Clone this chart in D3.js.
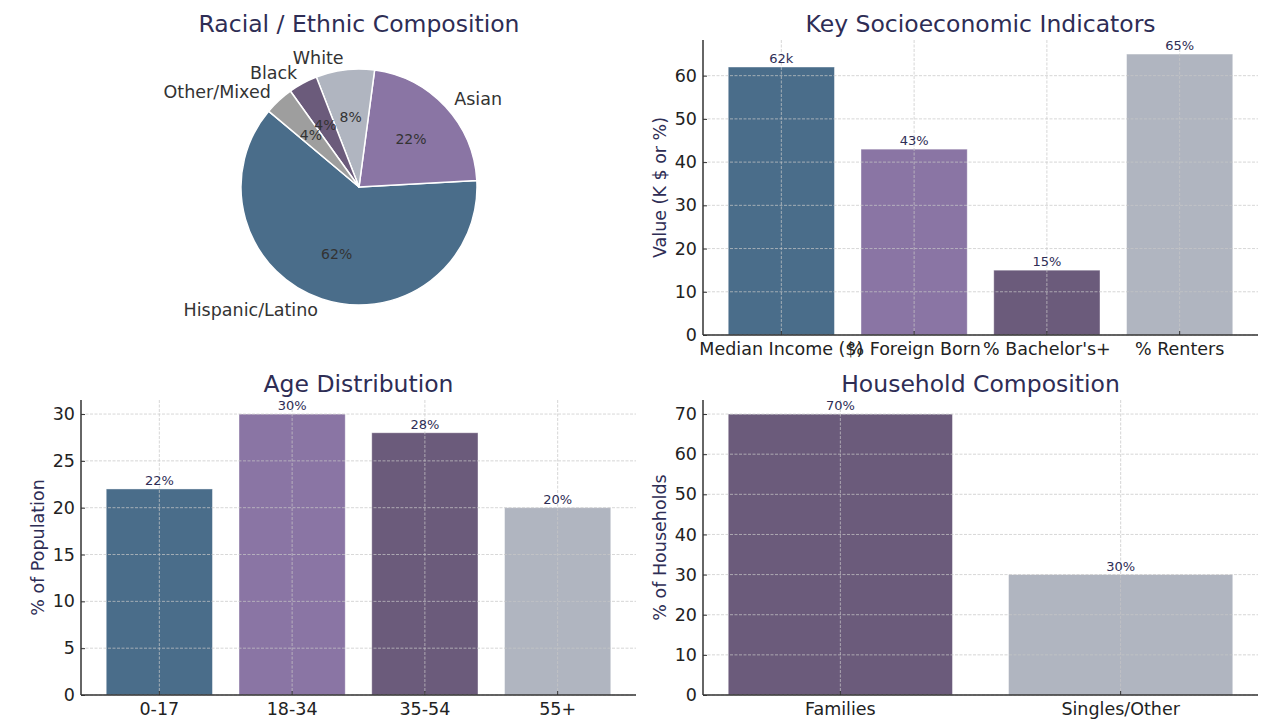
<!DOCTYPE html>
<html><head><meta charset="utf-8">
<script src="https://cdn.jsdelivr.net/npm/d3@7"></script>
<style>
body{margin:0;background:#fff;}
svg{display:block;font-family:"DejaVu Sans",sans-serif;}
</style></head>
<body><svg id="c" width="1270" height="720"></svg>
<script>
// ---- data ----
const raceLabels = ["Hispanic/Latino","Asian","White","Black","Other/Mixed"];
const raceValues = [62,22,8,4,4];
const raceColors = ["#4a6d8a","#8a75a4","#b0b5c0","#6b5b7b","#9e9e9e"];

const socioLabels = ["Median Income ($)","% Foreign Born","% Bachelor's+","% Renters"];
const socioValues = [62,43,15,65];
const socioText = ["62k","43%","15%","65%"];
const socioColors = ["#4a6d8a","#8a75a4","#6b5b7b","#b0b5c0"];
const socioTicks = [0,10,20,30,40,50,60];

const ageLabels = ["0-17","18-34","35-54","55+"];
const ageValues = [22,30,28,20];
const ageText = ["22%","30%","28%","20%"];
const ageColors = ["#4a6d8a","#8a75a4","#6b5b7b","#b0b5c0"];
const ageTicks = [0,5,10,15,20,25,30];

const hhLabels = ["Families","Singles/Other"];
const hhValues = [70,30];
const hhText = ["70%","30%"];
const hhColors = ["#6b5b7b","#b0b5c0"];
const hhTicks = [0,10,20,30,40,50,60,70];

const titleColor = "#2e2d55";
const svg = d3.select("#c");

// ---- pie ----
(function(){
  const cx = 359, cy = 187, r = 118;
  const g = svg.append("g").attr("transform",`translate(${cx},${cy})`);
  const deg = Math.PI/180;
  const start = Math.PI/2 - 140*deg;
  const pie = d3.pie().sort(null).value(d=>d).startAngle(start).endAngle(start - 2*Math.PI);
  const arcs = pie(raceValues);
  const arc = d3.arc().innerRadius(0).outerRadius(r);
  g.selectAll("path").data(arcs).enter().append("path")
    .attr("d", arc).attr("fill",(d,i)=>raceColors[i])
    .attr("stroke","#fff").attr("stroke-width",1.5).attr("stroke-linejoin","round");
  arcs.forEach((a,i)=>{
    const m = (a.startAngle + a.endAngle)/2;
    const lx = Math.sin(m)*r*1.1, ly = -Math.cos(m)*r*1.1;
    g.append("text").attr("x",lx).attr("y",ly).attr("dy","0.35em")
      .attr("text-anchor", lx>0 ? "start" : "end")
      .attr("font-size",17.5).attr("fill","#333").text(raceLabels[i]);
    const px = Math.sin(m)*r*0.6, py = -Math.cos(m)*r*0.6;
    g.append("text").attr("x",px).attr("y",py).attr("dy","0.35em")
      .attr("text-anchor","middle").attr("font-size",14).attr("fill","#333")
      .text(raceValues[i]+"%");
  });
  svg.append("text").attr("x",359).attr("y",32).attr("text-anchor","middle")
    .attr("font-size",23.5).attr("fill",titleColor).text("Racial / Ethnic Composition");
})();

// ---- bar panels ----
function barPanel(o){
  const {left,right,top,bottom,labels,values,texts,colors,ticks,ymax,title,ylabel,ylabelX} = o;
  const n = labels.length;
  const x = d3.scaleBand().domain(labels).range([left,right])
    .paddingInner(0.2).paddingOuter(0.05*(n-0.2));
  const y = d3.scaleLinear().domain([0,ymax]).range([bottom,top]);
  const g = svg.append("g");
  // bars
  g.selectAll("rect.bar").data(values).enter().append("rect")
    .attr("x",(d,i)=>x(labels[i])).attr("width",x.bandwidth())
    .attr("y",d=>y(d)).attr("height",d=>y(0)-y(d))
    .attr("fill",(d,i)=>colors[i])
    .attr("stroke","#fff").attr("stroke-opacity",0.5).attr("stroke-width",0.8);
  // grid (drawn over bars)
  const grid = g.append("g").attr("stroke","#c8c8c8").attr("stroke-width",0.8)
    .attr("stroke-dasharray","3,1.5").attr("opacity",0.9);
  ticks.forEach(t=>{
    grid.append("line").attr("x1",left).attr("x2",right).attr("y1",y(t)).attr("y2",y(t));
  });
  labels.forEach(l=>{
    const cx = x(l)+x.bandwidth()/2;
    grid.append("line").attr("x1",cx).attr("x2",cx).attr("y1",top).attr("y2",bottom);
  });
  // value labels
  g.selectAll("text.val").data(values).enter().append("text")
    .attr("x",(d,i)=>x(labels[i])+x.bandwidth()/2).attr("y",d=>y(d)-4)
    .attr("text-anchor","middle").attr("font-size",13).attr("fill",titleColor)
    .text((d,i)=>texts[i]);
  // axes (ticks point inward)
  const ax = g.append("g").attr("transform",`translate(0,${bottom})`)
    .call(d3.axisBottom(x).tickSizeInner(-4).tickSizeOuter(0).tickPadding(8));
  const ay = g.append("g").attr("transform",`translate(${left},0)`)
    .call(d3.axisLeft(y).tickValues(ticks).tickSizeInner(-4).tickSizeOuter(0).tickPadding(6).tickFormat(d3.format("d")));
  [ax,ay].forEach(a=>{
    a.select(".domain").attr("stroke","#333").attr("stroke-width",1.5);
    a.selectAll(".tick line").attr("stroke","#333").attr("stroke-width",1);
    a.selectAll(".tick text").attr("font-size",17.5).attr("fill","#222")
      .attr("font-family","DejaVu Sans, sans-serif");
  });
  ay.select(".domain").attr("d",`M0,${bottom}V${top}`);
  ax.select(".domain").attr("d",`M${left},0H${right}`);
  // title
  svg.append("text").attr("x",(left+right)/2).attr("y",top-8).attr("text-anchor","middle")
    .attr("font-size",23.5).attr("fill",titleColor).text(title);
  // ylabel
  svg.append("text").attr("transform",`translate(${ylabelX},${(top+bottom)/2}) rotate(-90)`)
    .attr("text-anchor","middle").attr("dy","0.35em")
    .attr("font-size",17.5).attr("fill",titleColor).text(ylabel);
}

barPanel({left:703,right:1258,top:40,bottom:335,labels:socioLabels,values:socioValues,
  texts:socioText,colors:socioColors,ticks:socioTicks,ymax:68.25,
  title:"Key Socioeconomic Indicators",ylabel:"Value (K $ or %)",ylabelX:660});
barPanel({left:81,right:636,top:400,bottom:695,labels:ageLabels,values:ageValues,
  texts:ageText,colors:ageColors,ticks:ageTicks,ymax:31.5,
  title:"Age Distribution",ylabel:"% of Population",ylabelX:38});
barPanel({left:703,right:1258,top:400,bottom:695,labels:hhLabels,values:hhValues,
  texts:hhText,colors:hhColors,ticks:hhTicks,ymax:73.5,
  title:"Household Composition",ylabel:"% of Households",ylabelX:660});
</script></body></html>
